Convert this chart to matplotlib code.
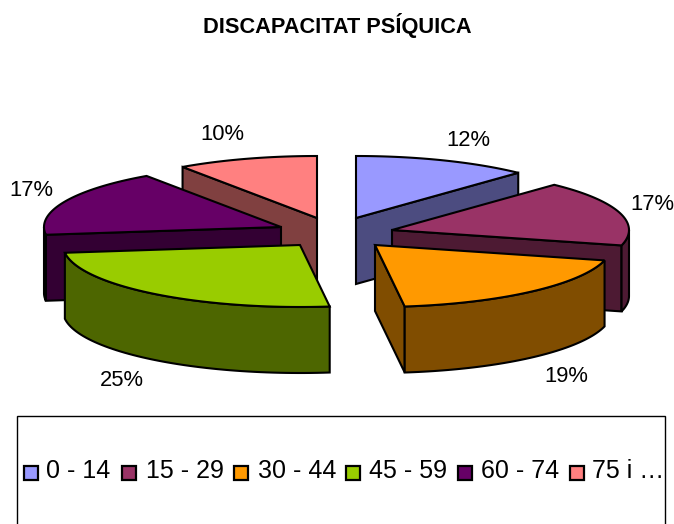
import matplotlib
matplotlib.use("Agg")
import matplotlib.pyplot as plt
from matplotlib.patches import Polygon, Rectangle
import numpy as np

plt.rcParams['font.family'] = ['Liberation Sans', 'DejaVu Sans']

title = "DISCAPACITAT PSÍQUICA"
categories = ["0 - 14", "15 - 29", "30 - 44", "45 - 59", "60 - 74", "75 i …"]
values = [12.0, 17.0, 19.0, 25.0, 17.4, 9.6]
colors = ["#9999FF", "#993366", "#FF9900", "#99CC00", "#660066", "#FF8080"]
darks = ["#4C4C80", "#4D1A33", "#804D00", "#4D6600", "#330033", "#804040"]

# pixel positions of things
apex = [(356, 218), (392, 230), (375, 245), (300, 245), (281, 227), (317, 218)]
label_pos = [(468, 140), (652, 205), (566, 377), (122, 381), (31, 191), (222, 135)]
legend_sq = [24, 122, 234, 346, 458, 570]
legend_txt = [46, 146, 258, 369, 481, 592]
rx, ry, depth = 237, 62, 66
draw_order = [5, 4, 3, 0, 1, 2]

def pt(c, a):
    # a is degrees clockwise from the top
    r = np.radians(a)
    return c[0] + rx * np.sin(r), c[1] - ry * np.cos(r)

def arc(c, a1, a2):
    aa = np.linspace(a1, a2, 60)
    return [pt(c, a) for a in aa]

def drop(points):
    return [(x, y + depth) for x, y in points]

fig = plt.figure(figsize=(6.74, 5.24), dpi=100)
ax = fig.add_axes([0, 0, 1, 1])
ax.set_xlim(0, 674)
ax.set_ylim(524, 0)
ax.axis('off')

edges = np.cumsum([0] + values) * 3.6

for i in draw_order:
    c, a1, a2 = apex[i], edges[i], edges[i + 1]
    lw = 1.5
    # side walls that face the viewer
    if a1 > 180:
        top = [c, pt(c, a1)]
        ax.add_patch(Polygon(top + drop(top)[::-1], fc=darks[i], ec='black', lw=lw))
    if a2 < 180:
        top = [c, pt(c, a2)]
        ax.add_patch(Polygon(top + drop(top)[::-1], fc=darks[i], ec='black', lw=lw))
    lo, hi = max(a1, 90), min(a2, 270)
    if lo < hi:
        top = arc(c, lo, hi)
        ax.add_patch(Polygon(top + drop(top)[::-1], fc=darks[i], ec='black', lw=lw))
    ax.add_patch(Polygon([c] + arc(c, a1, a2), fc=colors[i], ec='black', lw=lw))

for (x, y), v in zip(label_pos, values):
    ax.text(x, y, f"{v:.0f}%", fontsize=15.8, ha='center', va='center', color='black')

ax.text(337, 26, title, fontsize=15.7, fontweight='bold', ha='center', va='center')

# legend box runs off the bottom of the picture
box = Rectangle((17, 416), 648, 120, fc='white', ec='black', lw=1)
ax.add_patch(box)
for sx, tx, lab, col in zip(legend_sq, legend_txt, categories, colors):
    ax.add_patch(Rectangle((sx, 466), 14, 14, fc=col, ec='black', lw=1.6))
    t = ax.text(tx, 471, lab, fontsize=18, ha='left', va='center')
    t.set_clip_path(box)

fig.savefig("out.png", dpi=100)
